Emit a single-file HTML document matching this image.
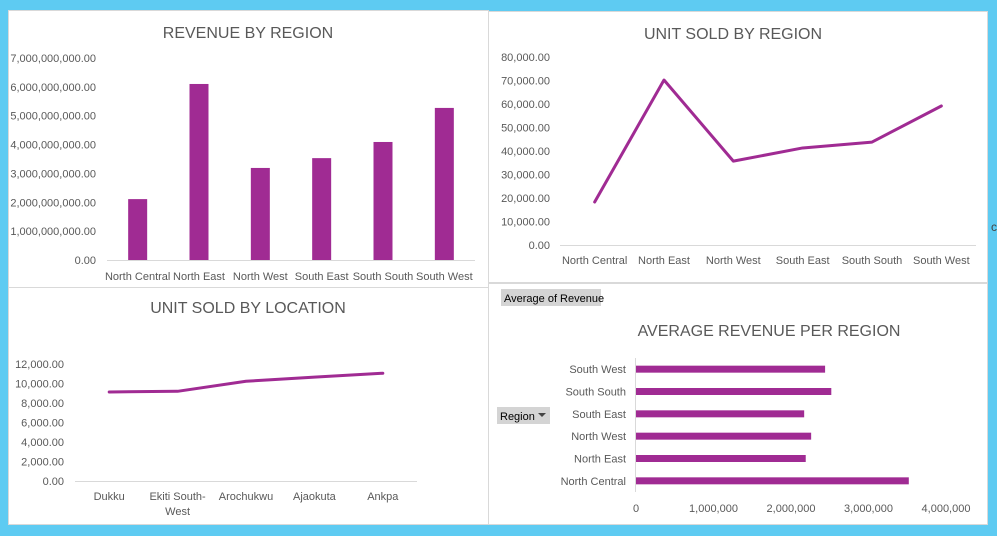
<!DOCTYPE html>
<html><head><meta charset="utf-8"><style>
html,body{margin:0;padding:0;background:#5ecbf2;}
svg{display:block;font-family:"Liberation Sans",sans-serif;}
.tk{fill:#595959;font-size:11px;}
.tt{fill:#595959;font-size:16px;}
</style></head><body>
<svg id="s" width="997" height="536" viewBox="0 0 997 536" xmlns="http://www.w3.org/2000/svg">
<rect x="0" y="0" width="997" height="536" fill="#5ecbf2"/>
<rect x="8.5" y="10.5" width="480" height="277" fill="#fff" stroke="#d9d9d9"/>
<rect x="488.5" y="11.5" width="499" height="271" fill="#fff" stroke="#d9d9d9"/>
<rect x="8.5" y="287.5" width="480" height="237" fill="#fff" stroke="#d9d9d9"/>
<rect x="488.5" y="283.5" width="499" height="241" fill="#fff" stroke="#d9d9d9"/>
<text x="991" y="231" font-size="12" fill="#444">c</text>
<text class="tt" x="248" y="38" text-anchor="middle">REVENUE BY REGION</text>
<text class="tt" x="733" y="39" text-anchor="middle">UNIT SOLD BY REGION</text>
<text class="tt" x="248" y="313" text-anchor="middle">UNIT SOLD BY LOCATION</text>
<text class="tt" x="769" y="336" text-anchor="middle">AVERAGE REVENUE PER REGION</text>
<rect x="501" y="289" width="100" height="17" fill="#d4d4d4"/>
<text x="504" y="302" font-size="11" fill="#000">Average of Revenue</text>
<rect x="497" y="407" width="53" height="17" fill="#d4d4d4"/>
<text x="500" y="420" font-size="11" fill="#000">Region</text>
<path d="M538 413 l8 0 l-4 4 z" fill="#444"/>
<g id="g1"></g><g id="g2"></g><g id="g3"></g><g id="g4"></g>
</svg>
<script>
const regions = ["North Central","North East","North West","South East","South South","South West"];
const revenue = [2110000000, 6100000000, 3190000000, 3530000000, 4090000000, 5270000000];
const revenueTicks = [0,1e9,2e9,3e9,4e9,5e9,6e9,7e9];
const unitsRegion = [18300, 70200, 35700, 41300, 43800, 59150];
const unitsRegionTicks = [0,10000,20000,30000,40000,50000,60000,70000,80000];
const locations = ["Dukku","Ekiti South-|West","Arochukwu","Ajaokuta","Ankpa"];
const unitsLocation = [9130, 9200, 10230, 10650, 11050];
const unitsLocationTicks = [0,2000,4000,6000,8000,10000,12000];
const avgRegions = ["North Central","North East","North West","South East","South South","South West"];
const avgRevenue = [3520000, 2190000, 2260000, 2170000, 2520000, 2440000];
const avgTicks = [0,1000000,2000000,3000000,4000000];

const NS="http://www.w3.org/2000/svg";
const PURPLE="#a02b93";
function mk(parent,tag,attrs,txt){const e=document.createElementNS(NS,tag);for(const k in attrs)e.setAttribute(k,attrs[k]);if(txt!==undefined)e.textContent=txt;parent.appendChild(e);return e;}
function fmt2(v){return v.toLocaleString("en-US",{minimumFractionDigits:2,maximumFractionDigits:2});}
function fmt0(v){return v.toLocaleString("en-US");}

(function(){
  const g=document.getElementById("g1");
  const x0=107,x1=475,yb=260,yt=58,max=7e9;
  const y=v=>yb-(v/max)*(yb-yt);
  const band=(x1-x0)/regions.length;
  revenueTicks.forEach(t=>{
    const e=mk(g,"text",{class:"tk",x:96,y:y(t)+4,"text-anchor":"end"},fmt2(t));
    
    
  });
  const ax=mk(g,"line",{x1:x0,x2:x1,y1:yb+0.5,y2:yb+0.5,stroke:"#d9d9d9"});
  
  
  regions.forEach((r,i)=>{
    const cx=x0+band*(i+0.5);
    const b=mk(g,"rect",{x:cx-9.5,y:y(revenue[i]),width:19,height:yb-y(revenue[i]),fill:PURPLE});
    
    
    const l=mk(g,"text",{class:"tk",x:cx,y:280,"text-anchor":"middle"},r);
    
    
  });
})();

(function(){
  const g=document.getElementById("g2");
  const x0=560,x1=976,yb=245,yt=57,max=80000;
  const y=v=>yb-(v/max)*(yb-yt);
  const band=(x1-x0)/regions.length;
  unitsRegionTicks.forEach(t=>{
    const e=mk(g,"text",{class:"tk",x:550,y:y(t)+4,"text-anchor":"end"},fmt2(t));
    
    
  });
  const ax=mk(g,"line",{x1:x0,x2:x1,y1:yb+0.5,y2:yb+0.5,stroke:"#d9d9d9"});
  
  
  const pts=regions.map((r,i)=>[x0+band*(i+0.5),y(unitsRegion[i])]);
  const p=mk(g,"polyline",{points:pts.map(q=>q.join(",")).join(" "),fill:"none",stroke:PURPLE,"stroke-width":3,"stroke-linejoin":"round","stroke-linecap":"round"});
  
  
  regions.forEach((r,i)=>{
    const l=mk(g,"text",{class:"tk",x:pts[i][0],y:264,"text-anchor":"middle"},r);
    
    
  });
})();

(function(){
  const g=document.getElementById("g3");
  const x0=75,x1=417,yb=481,yt=364,max=12000;
  const y=v=>yb-(v/max)*(yb-yt);
  const band=(x1-x0)/locations.length;
  unitsLocationTicks.forEach(t=>{
    const e=mk(g,"text",{class:"tk",x:64,y:y(t)+4,"text-anchor":"end"},fmt2(t));
    
    
  });
  const ax=mk(g,"line",{x1:x0,x2:x1,y1:yb+0.5,y2:yb+0.5,stroke:"#d9d9d9"});
  
  
  const pts=locations.map((r,i)=>[x0+band*(i+0.5),y(unitsLocation[i])]);
  const p=mk(g,"polyline",{points:pts.map(q=>q.join(",")).join(" "),fill:"none",stroke:PURPLE,"stroke-width":3,"stroke-linejoin":"round","stroke-linecap":"round"});
  
  
  locations.forEach((r,i)=>{
    r.split("|").forEach((part,k)=>{
      const l=mk(g,"text",{class:"tk",x:pts[i][0],y:500+k*15,"text-anchor":"middle"},part);
      
      
    });
  });
})();

(function(){
  const g=document.getElementById("g4");
  const x0=636,max=4000000,xm=946,yTop=358,yBot=492;
  const x=v=>x0+(v/max)*(xm-x0);
  const band=(yBot-yTop)/avgRegions.length;
  avgTicks.forEach(t=>{
    const e=mk(g,"text",{class:"tk",x:x(t),y:512,"text-anchor":"middle"},fmt0(t));
    
    
  });
  const ax=mk(g,"line",{x1:x0-0.5,x2:x0-0.5,y1:yTop,y2:yBot,stroke:"#d9d9d9"});
  
  
  avgRegions.forEach((r,i)=>{
    const cy=yBot-band*(i+0.5);
    const b=mk(g,"rect",{x:x0,y:cy-3.5,width:x(avgRevenue[i])-x0,height:7,fill:PURPLE});
    
    
    const l=mk(g,"text",{class:"tk",x:626,y:cy+4,"text-anchor":"end"},r);
    
    
  });
})();
</script>
</body></html>
